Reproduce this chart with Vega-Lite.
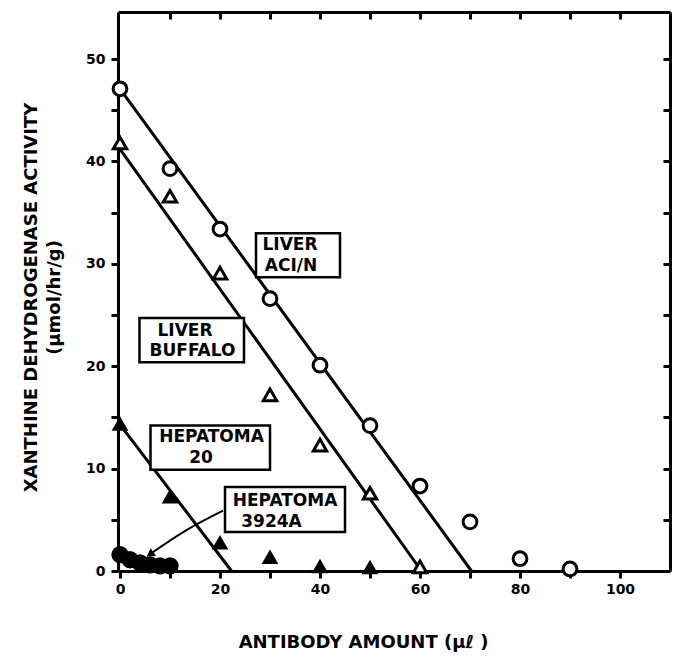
{
  "$schema": "https://vega.github.io/schema/vega-lite/v6.json",
  "width": 552,
  "height": 559,
  "autosize": "none",
  "padding": {"left": 118, "top": 12, "right": 4, "bottom": 100},
  "background": "white",
  "config": {
    "view": {"stroke": null},
    "axis": {
      "domainColor": "black", "domainWidth": 3, "tickColor": "black", "tickWidth": 3, "tickSize": 7,
      "labelFont": "DejaVu Sans", "labelFontWeight": "bold", "labelFontSize": 14, "labelColor": "black",
      "titleFont": "DejaVu Sans", "titleFontWeight": "bold", "titleFontSize": 18, "titleColor": "black",
      "grid": false
    }
  },
  "datasets": {
    "points": [
      {"s": "ACI/N", "x": 0, "y": 47.1}, {"s": "ACI/N", "x": 10, "y": 39.3}, {"s": "ACI/N", "x": 20, "y": 33.4},
      {"s": "ACI/N", "x": 30, "y": 26.6}, {"s": "ACI/N", "x": 40, "y": 20.1}, {"s": "ACI/N", "x": 50, "y": 14.2},
      {"s": "ACI/N", "x": 60, "y": 8.3}, {"s": "ACI/N", "x": 70, "y": 4.8}, {"s": "ACI/N", "x": 80, "y": 1.2},
      {"s": "ACI/N", "x": 90, "y": 0.2},
      {"s": "BUFFALO", "x": 0, "y": 41.8}, {"s": "BUFFALO", "x": 10, "y": 36.6}, {"s": "BUFFALO", "x": 20, "y": 29.1},
      {"s": "BUFFALO", "x": 30, "y": 17.2}, {"s": "BUFFALO", "x": 40, "y": 12.3}, {"s": "BUFFALO", "x": 50, "y": 7.6},
      {"s": "BUFFALO", "x": 60, "y": 0.4},
      {"s": "H20", "x": 0, "y": 14.4}, {"s": "H20", "x": 10, "y": 7.3}, {"s": "H20", "x": 20, "y": 2.8},
      {"s": "H20", "x": 30, "y": 1.4}, {"s": "H20", "x": 40, "y": 0.5}, {"s": "H20", "x": 50, "y": 0.4},
      {"s": "H3924A", "x": 0, "y": 1.6}, {"s": "H3924A", "x": 2, "y": 1.1}, {"s": "H3924A", "x": 4, "y": 0.8},
      {"s": "H3924A", "x": 6, "y": 0.6}, {"s": "H3924A", "x": 8, "y": 0.5}, {"s": "H3924A", "x": 10, "y": 0.5}
    ],
    "lines": [
      {"s": "ACI/N", "x": 0, "y": 47.1}, {"s": "ACI/N", "x": 70.3, "y": 0},
      {"s": "BUFFALO", "x": 0, "y": 41.2}, {"s": "BUFFALO", "x": 60.3, "y": 0},
      {"s": "H20", "x": 0, "y": 14.3}, {"s": "H20", "x": 22.3, "y": 0}
    ],
    "boxes": [
      {"x": 27.2, "x2": 44.0, "y": 33.0, "y2": 28.7},
      {"x": 3.9, "x2": 24.8, "y": 24.7, "y2": 20.4},
      {"x": 6.1, "x2": 30.0, "y": 14.2, "y2": 9.9},
      {"x": 21.0, "x2": 45.0, "y": 8.2, "y2": 3.8}
    ],
    "labels": [
      {"t": "LIVER", "x": 34.0, "y": 31.8}, {"t": "ACI/N", "x": 34.2, "y": 29.8},
      {"t": "LIVER", "x": 13.0, "y": 23.4}, {"t": "BUFFALO", "x": 14.5, "y": 21.5},
      {"t": "HEPATOMA", "x": 18.3, "y": 13.1}, {"t": "20", "x": 16.2, "y": 11.0},
      {"t": "HEPATOMA", "x": 33.0, "y": 6.8}, {"t": "3924A", "x": 30.3, "y": 4.8}
    ],
    "arrow": [
      {"x": 20.6, "y": 5.9}, {"x": 13.3, "y": 4.0}, {"x": 6.0, "y": 1.65}
    ],
    "head": [
      {"x": 6.0, "y": 1.62}
    ]
  },
  "layer": [
    {
      "data": {"name": "lines"},
      "mark": {"type": "line", "color": "black", "strokeWidth": 3},
      "encoding": {
        "x": {"field": "x", "type": "quantitative", "scale": {"domain": [-0.4, 110], "nice": false, "zero": false},
          "axis": {"orient": "bottom", "values": [0,10,20,30,40,50,60,70,80,90,100],
            "labelExpr": "datum.value % 20 === 0 ? datum.label : ''", "labelPadding": 4,
            "title": "ANTIBODY AMOUNT (μℓ )", "titleX": 245, "titleY": 71, "titleBaseline": "middle", "titleAnchor": null}},
        "y": {"field": "y", "type": "quantitative", "scale": {"domain": [0, 54.6], "nice": false},
          "axis": {"orient": "left", "values": [0,5,10,15,20,25,30,35,40,45,50],
            "labelExpr": "datum.value % 10 === 0 ? datum.label : ''", "labelPadding": 6,
            "title": ["XANTHINE DEHYDROGENASE ACTIVITY", "(µmol/hr/g)"], "titleLineHeight": 23,
            "titleX": -78, "titleY": 285, "titleAngle": -90, "titleBaseline": "bottom", "titleAlign": "center"}},
        "detail": {"field": "s"}
      }
    },
    {
      "data": {"name": "arrow"},
      "mark": {"type": "line", "color": "black", "strokeWidth": 2, "interpolate": "natural"},
      "encoding": {
        "x": {"field": "x", "type": "quantitative", "axis": null},
        "y": {"field": "y", "type": "quantitative", "axis": null}
      }
    },
    {
      "data": {"name": "head"},
      "mark": {"type": "point", "shape": "triangle-up", "angle": 236, "size": 90, "filled": true, "color": "black", "opacity": 1},
      "encoding": {
        "x": {"field": "x", "type": "quantitative", "axis": null},
        "y": {"field": "y", "type": "quantitative", "axis": null}
      }
    },
    {
      "data": {"name": "boxes"},
      "mark": {"type": "rect", "fill": "white", "stroke": "black", "strokeWidth": 2.5},
      "encoding": {
        "x": {"field": "x", "type": "quantitative", "axis": null},
        "x2": {"field": "x2"},
        "y": {"field": "y", "type": "quantitative", "axis": null},
        "y2": {"field": "y2"}
      }
    },
    {
      "data": {"name": "labels"},
      "mark": {"type": "text", "font": "DejaVu Sans", "fontWeight": "bold", "fontSize": 17, "color": "black", "align": "center", "baseline": "middle"},
      "encoding": {
        "x": {"field": "x", "type": "quantitative", "axis": null},
        "y": {"field": "y", "type": "quantitative", "axis": null},
        "text": {"field": "t"}
      }
    },
    {
      "data": {"name": "points"},
      "transform": [{"filter": "datum.s === 'ACI/N'"}],
      "mark": {"type": "point", "shape": "circle", "size": 190, "filled": true, "fill": "white", "stroke": "black", "strokeWidth": 3, "opacity": 1},
      "encoding": {
        "x": {"field": "x", "type": "quantitative", "axis": null},
        "y": {"field": "y", "type": "quantitative", "axis": null}
      }
    },
    {
      "data": {"name": "points"},
      "transform": [{"filter": "datum.s === 'BUFFALO'"}],
      "mark": {"type": "point", "shape": "triangle-up", "size": 180, "filled": true, "fill": "white", "stroke": "black", "strokeWidth": 3, "opacity": 1},
      "encoding": {
        "x": {"field": "x", "type": "quantitative", "axis": null},
        "y": {"field": "y", "type": "quantitative", "axis": null}
      }
    },
    {
      "data": {"name": "points"},
      "transform": [{"filter": "datum.s === 'H20'"}],
      "mark": {"type": "point", "shape": "triangle-up", "size": 280, "filled": true, "fill": "black", "stroke": null, "opacity": 1},
      "encoding": {
        "x": {"field": "x", "type": "quantitative", "axis": null},
        "y": {"field": "y", "type": "quantitative", "axis": null}
      }
    },
    {
      "data": {"name": "points"},
      "transform": [{"filter": "datum.s === 'H3924A'"}],
      "mark": {"type": "point", "shape": "circle", "size": 300, "filled": true, "fill": "black", "stroke": null, "opacity": 1},
      "encoding": {
        "x": {"field": "x", "type": "quantitative", "axis": null},
        "y": {"field": "y", "type": "quantitative", "axis": null}
      }
    },
    {
      "data": {"name": "lines"},
      "mark": {"type": "point", "opacity": 0},
      "encoding": {
        "x": {"field": "x", "type": "quantitative",
          "axis": {"orient": "top", "values": [10,20,30,40,50,60,70,80,90,100], "labels": false, "tickSize": -7, "title": null}},
        "y": {"field": "y", "type": "quantitative",
          "axis": {"orient": "right", "values": [5,10,15,20,25,30,35,40,45,50], "labels": false, "tickSize": -7, "title": null}}
      }
    }
  ],
  "resolve": {"axis": {"x": "independent", "y": "independent"}}
}
